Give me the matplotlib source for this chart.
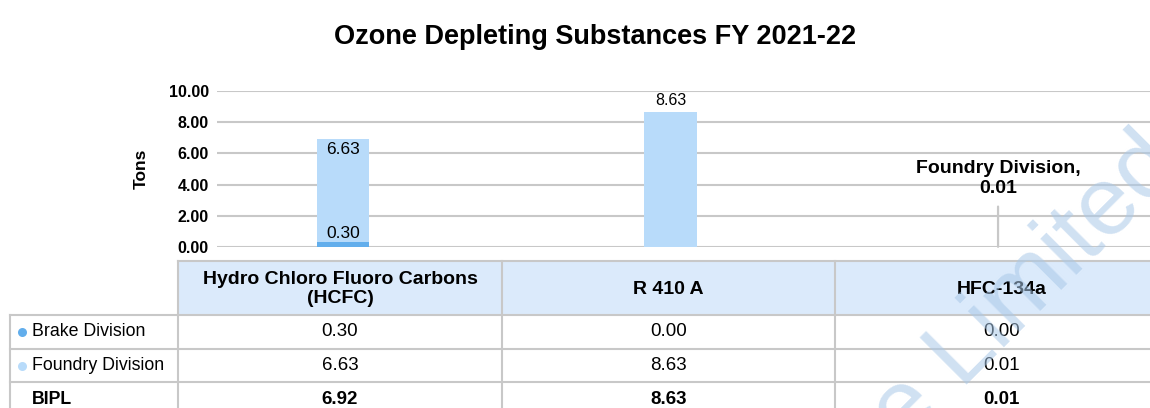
import numpy as np
import matplotlib
matplotlib.use('Agg')
import matplotlib.pyplot as plt

plt.rcParams.update({
    'font.family': ['Liberation Sans', 'DejaVu Sans'],
    'font.size': 11,
})

# data
categories = ['Hydro Chloro Fluoro Carbons\n(HCFC)', 'R 410 A', 'HFC-134a']
brake = [0.30, 0.00, 0.00]
foundry = [6.63, 8.63, 0.01]
bipl = [6.92, 8.63, 0.01]
series_names = ['Brake Division', 'Foundry Division', 'BIPL']
yticks = [0, 2, 4, 6, 8, 10]

c_brake = '#62aeec'
c_foundry = '#b8dbfa'
c_grid = '#c8c8c8'
c_head = '#dbeafb'

W, H = 1150, 408
fig = plt.figure(figsize=(W / 100, H / 100), dpi=100)

ax = fig.add_axes([217 / W, (H - 247) / H, (W - 217) / W, (247 - 91) / H])
x = np.arange(len(categories))
bw = 0.16
ax.bar(x, brake, bw, color=c_brake, zorder=2)
ax.bar(x, foundry, bw, bottom=brake, color=c_foundry, zorder=2)
ax.set_xlim(-0.385, 2.464)
ax.set_ylim(0, 10)
ax.set_yticks(yticks)
ax.set_yticklabels([f'{v:.2f}' for v in yticks], fontweight='bold', fontsize=11.5)
ax.set_xticks([])
ax.tick_params(axis='y', length=0, pad=6)
ax.grid(axis='y', color=c_grid, lw=1.5, zorder=0)
for s in ax.spines.values():
    s.set_visible(False)
ax.set_ylabel('Tons', fontweight='bold', fontsize=12.5, labelpad=14)

# data labels
ax.annotate(f'{brake[0]:.2f}', (x[0], brake[0]), xytext=(0, 1), textcoords='offset points',
            ha='center', va='bottom', fontsize=12.5)
ax.annotate(f'{foundry[0]:.2f}', (x[0], brake[0] + foundry[0]), xytext=(0, -2),
            textcoords='offset points', ha='center', va='top', fontsize=12.5)
ax.annotate(f'{foundry[1]:.2f}', (x[1], brake[1] + foundry[1]), xytext=(0, 3),
            textcoords='offset points', ha='center', va='bottom', fontsize=11.5)
ax.annotate(f'{series_names[1]},\n{foundry[2]:.2f}', (x[2], brake[2] + foundry[2]),
            xytext=(0, 36), textcoords='offset points', ha='center', va='bottom',
            fontsize=14, fontweight='bold', linespacing=1.2,
            arrowprops=dict(arrowstyle='-', color=c_grid, lw=1.6, shrinkA=5, shrinkB=0))

fig.text(595 / W, 1 - 37 / H, 'Ozone Depleting Substances FY 2021-22',
         ha='center', va='center', fontsize=19.5, fontweight='bold')

# ─── data table under the chart, in pixel coordinates ───
tb = fig.add_axes([0, 0, 1, 1], zorder=3)
tb.set_xlim(0, W)
tb.set_ylim(H, 0)
tb.axis('off')

col_edges = [10, 178, 502, 835, 1168]
row_edges = [261, 315, 349, 382, 416]
tb.fill_between([col_edges[1], W], row_edges[0], row_edges[1], color=c_head, lw=0)
lk = dict(color=c_grid, lw=1.5)
tb.plot([col_edges[1], W], [row_edges[0]] * 2, **lk)
for yy in row_edges[1:4]:
    tb.plot([col_edges[0], W], [yy] * 2, **lk)
tb.plot([col_edges[0]] * 2, [row_edges[1], H], **lk)
for xx in col_edges[1:4]:
    tb.plot([xx] * 2, [row_edges[0], H], **lk)

centers = [(a + b) / 2 for a, b in zip(col_edges[1:], col_edges[2:])]
for cx, cat in zip(centers, categories):
    tb.text(cx, (row_edges[0] + row_edges[1]) / 2 + 1, cat, ha='center', va='center',
            fontsize=14, fontweight='bold', linespacing=1.1)

rows = [brake, foundry, bipl]
dots = [c_brake, c_foundry, None]
for i, (name, vals, dc) in enumerate(zip(series_names, rows, dots)):
    yc = (row_edges[i + 1] + row_edges[i + 2]) / 2
    if i == 2:
        yc = 399
    wt = 'bold' if name == 'BIPL' else 'normal'
    if dc:
        tb.plot(22, yc, 'o', ms=6.5, color=dc, mec='none')
    tb.text(32, yc, name, ha='left', va='center', fontsize=12.8, fontweight=wt)
    for cx, v in zip(centers, vals):
        tb.text(cx, yc, f'{v:.2f}', ha='center', va='center', fontsize=13.5, fontweight=wt)

# faint watermark across the lower right corner
tb.text(1183, 168, 'Brakes India Private Limited', rotation=45, rotation_mode='anchor',
        ha='right', va='baseline', fontsize=70, color='#a9c8e8', alpha=0.55, zorder=5)

fig.savefig('out.png', dpi=100)
